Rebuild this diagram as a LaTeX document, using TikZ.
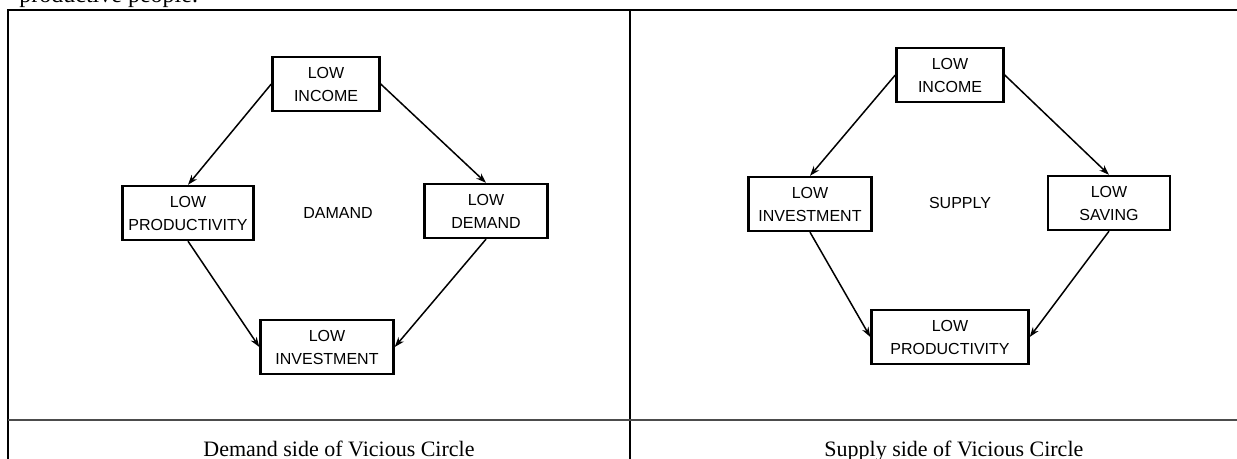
\documentclass[tikz,border=0pt]{standalone}
\usepackage{fontspec}
\setmainfont{Liberation Serif}
\setsansfont{Liberation Sans}
\usetikzlibrary{arrows.meta}

\tikzset{
  cell/.style={draw, line width=1.2pt, font=\sffamily\fontsize{8}{11.5}\selectfont,
    align=center, minimum height=27pt, inner sep=2pt},
  link/.style={-{Stealth[length=5pt,width=3.5pt]}, line width=0.75pt},
  rule/.style={line width=1pt},
  caption/.style={anchor=base west, inner sep=0pt, font=\fontsize{11}{13}\selectfont},
}

\begin{document}
\begin{tikzpicture}[x=0.5pt,y=-0.5pt]
\useasboundingbox (0,0) rectangle (1237,459);
% table frame
\draw[rule] (1240,10) -- (8,10) -- (8,470);
\draw[rule] (630,10) -- (630,470);
\draw[rule, black!70] (8,420) -- (1240,420);
\node[anchor=base west, inner sep=0pt, font=\fontsize{12}{14}\selectfont] (prev) at (19,3) {productive people.};

% demand side
\node[cell, minimum width=53.5pt] (dinc) at (326,84) {LOW\\INCOME};
\node[cell, minimum width=65.5pt] (dprod) at (188,213) {LOW\\PRODUCTIVITY};
\node[cell, minimum width=61.5pt] (ddem) at (486,211) {LOW\\DEMAND};
\node[cell, minimum width=66.5pt] (dinv) at (327,347) {LOW\\INVESTMENT};
\node[font=\sffamily\fontsize{8}{10}\selectfont] (dlab) at (338,213) {DAMAND};

\draw[link] (dinc.west) -- (dprod.north);
\draw[link] (dinc.east) -- (ddem.north);
\draw[link] (dprod.south) -- (dinv.west);
\draw[link] (ddem.south) -- (dinv.east);

% supply side
\node[cell, minimum width=53.5pt] (sinc) at (950,75) {LOW\\INCOME};
\node[cell, minimum width=61.5pt] (sinv) at (810,204) {LOW\\INVESTMENT};
\node[cell, minimum width=61pt] (ssav) at (1109,203) {LOW\\SAVING};
\node[cell, minimum width=78.5pt] (sprod) at (950,337) {LOW\\PRODUCTIVITY};
\node[font=\sffamily\fontsize{8}{10}\selectfont] (slab) at (960,203) {SUPPLY};

\draw[link] (sinc.west) -- (sinv.north);
\draw[link] (sinc.east) -- (ssav.north);
\draw[link] (sinv.south) -- (sprod.west);
\draw[link] (ssav.south) -- (sprod.east);

% captions
\node[caption] (dcap) at (203,457) {Demand side of Vicious Circle};
\node[caption] (scap) at (824,457) {Supply side of Vicious Circle};
\end{tikzpicture}
\end{document}
